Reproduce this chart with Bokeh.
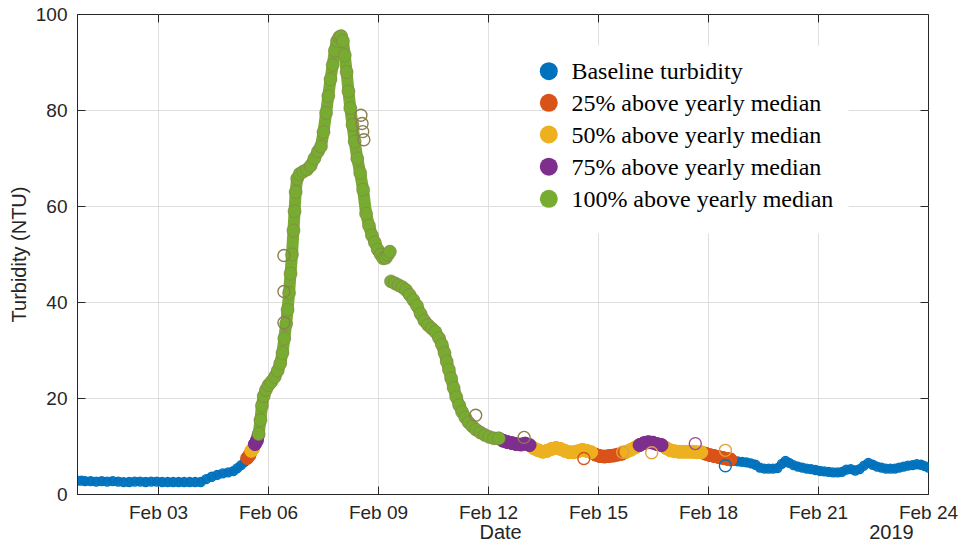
import numpy as np
from bokeh.plotting import figure
from bokeh.models import Range1d, FixedTicker, LinearAxis, CustomJSTickFormatter
from bokeh.core.properties import value
from bokeh.embed import file_html
from bokeh.resources import INLINE

# Turbidity record: time in days after 2019-02-01 00:00, turbidity in NTU.
# A NaN marks the short break in the record on Feb 09.
day = [
    -0.20, -0.10, 0.00, 0.15, 0.30, 0.45, 0.60, 0.75, 0.90, 1.05, 1.20, 1.35,
    1.50, 1.65, 1.80, 1.95, 2.10, 2.25, 2.40, 2.55, 2.70, 2.85, 3.00, 3.15,
    3.30, 3.45, 3.60, 3.75, 3.90, 4.05, 4.15, 4.25, 4.35, 4.42, 4.48, 4.53,
    4.58, 4.63, 4.68, 4.73, 4.78, 4.82, 4.87, 4.93, 5.00, 5.08, 5.17, 5.25,
    5.32, 5.38, 5.43, 5.48, 5.52, 5.56, 5.60, 5.64, 5.68, 5.71, 5.74, 5.78,
    5.85, 5.95, 6.05, 6.15, 6.25, 6.35, 6.43, 6.50, 6.57, 6.63, 6.69, 6.75,
    6.81, 6.87, 6.93, 6.98, 7.03, 7.08, 7.13, 7.18, 7.23, 7.29, 7.35, 7.42,
    7.50, 7.58, 7.66, 7.74, 7.82, 7.90, 7.98, 8.06, 8.13, 8.20, 8.26, 8.31,
    8.33,
    8.34, 8.45, 8.55, 8.65, 8.75, 8.85, 8.95, 9.05, 9.15, 9.25, 9.35, 9.45,
    9.55, 9.65, 9.73, 9.80, 9.86, 9.92, 9.98, 10.05, 10.12, 10.20, 10.28, 10.37,
    10.46, 10.56, 10.66, 10.78, 10.90, 11.02, 11.15, 11.28, 11.40, 11.52, 11.64, 11.76,
    11.88, 12.00, 12.12, 12.24, 12.36, 12.48, 12.60, 12.72, 12.84, 12.96, 13.08, 13.20,
    13.32, 13.44, 13.56, 13.68, 13.80, 13.92, 14.04, 14.16, 14.28, 14.40, 14.52, 14.64,
    14.76, 14.88, 15.00, 15.12, 15.24, 15.36, 15.48, 15.60, 15.72, 15.84, 15.96, 16.08,
    16.20, 16.32, 16.44, 16.56, 16.68, 16.80, 16.92, 17.04, 17.16, 17.28, 17.40, 17.52,
    17.60, 17.68, 17.80, 17.92, 18.04, 18.16, 18.28, 18.40, 18.52, 18.64, 18.76, 18.88,
    19.00, 19.10, 19.20, 19.32, 19.44, 19.56, 19.68, 19.80, 19.92, 20.04, 20.16, 20.28,
    20.40, 20.52, 20.64, 20.76, 20.88, 21.00, 21.12, 21.24, 21.36, 21.48, 21.60, 21.72,
    21.84, 21.96, 22.08, 22.20, 22.32, 22.44, 22.56, 22.68, 22.80, 22.90, 23.00,
]
turbidity = [
    2.9, 2.9, 2.8, 2.8, 2.7, 2.8, 2.7, 2.8, 2.7, 2.6, 2.6, 2.7,
    2.7, 2.6, 2.7, 2.7, 2.6, 2.6, 2.6, 2.6, 2.6, 2.6, 2.6, 2.6,
    3.2, 3.7, 4.1, 4.4, 4.6, 4.9, 5.5, 6.1, 6.8, 7.6, 8.2, 9.1,
    9.6, 10.5, 11.2, 12.6, 15.5, 18.5, 20.5, 21.8, 22.8, 23.5, 24.5, 25.8,
    27.3, 29.5, 32.5, 35.5, 38.5, 42.0, 46.0, 50.0, 55.0, 59.0, 63.0, 65.8,
    66.8, 67.3, 67.7, 68.5, 70.0, 71.5, 72.5, 75.5, 79.5, 83.0, 86.5, 89.5,
    92.5, 94.5, 95.3, 95.5, 94.5, 91.5, 88.0, 84.0, 80.5, 77.0, 73.5, 70.0,
    67.0, 63.5, 58.5, 56.0, 54.0, 52.5, 51.0, 50.0, 49.2, 49.3, 50.0, 50.6,
    float("nan"),
    44.4, 44.0, 43.6, 43.2, 42.6, 41.6, 40.5, 39.3, 37.6, 36.2, 35.3, 34.6,
    33.9, 32.6, 31.2, 29.5, 27.7, 26.0, 24.2, 22.2, 20.3, 18.6, 17.2, 16.0,
    15.0, 14.2, 13.5, 12.9, 12.4, 12.0, 11.7, 11.7, 11.2, 10.9, 10.7, 10.5,
    10.4, 10.6, 10.3, 9.6, 9.2, 8.9, 9.1, 9.5, 9.7, 9.5, 9.1, 8.8,
    8.8, 9.0, 9.3, 9.1, 8.8, 8.3, 8.0, 7.9, 8.0, 8.1, 8.3, 8.5,
    8.9, 9.3, 9.8, 10.3, 10.7, 10.9, 10.8, 10.5, 10.3, 9.7, 9.2, 9.0,
    8.9, 8.9, 8.9, 8.9, 8.8, 8.8, 8.5, 8.2, 8.0, 7.8, 7.6, 7.4,
    7.3, 7.0, 6.9, 6.8, 6.7, 6.5, 6.2, 5.6, 5.4, 5.4, 5.4, 5.5,
    6.4, 7.0, 6.6, 6.1, 5.8, 5.6, 5.4, 5.3, 5.1, 4.9, 4.8, 4.7,
    4.6, 4.6, 4.7, 5.2, 5.3, 5.0, 5.3, 6.0, 6.6, 6.2, 5.8, 5.6,
    5.4, 5.4, 5.4, 5.6, 5.8, 6.0, 6.1, 6.3, 6.2, 5.9, 5.6,
]

# Isolated readings that sit off the main trace
spike_day = [5.42, 5.42, 5.42, 7.52, 7.55, 7.57, 7.60, 10.65, 11.97,
             13.60, 14.66, 15.45, 16.64, 17.46, 17.46]
spike_turbidity = [49.8, 42.3, 35.8, 79.0, 77.3, 75.6, 73.9, 16.5, 11.9,
                   7.5, 8.8, 8.7, 10.6, 9.2, 6.0]

yearly_median = 5.8
exceedance = [0.25, 0.50, 0.75, 1.00]
category_labels = [
    "Baseline turbidity",
    "25% above yearly median",
    "50% above yearly median",
    "75% above yearly median",
    "100% above yearly median",
]
category_colors = ["#0072BD", "#D95319", "#EDB120", "#7E2F8E", "#77AC30"]
ring_colors = ["#0072BD", "#D95319", "#E0A23A", "#9A4F86", "#8A8050"]

x_tick_days = [2, 5, 8, 11, 14, 17, 20, 23]
x_tick_labels = ["Feb 03", "Feb 06", "Feb 09", "Feb 12", "Feb 15", "Feb 18", "Feb 21", "Feb 24"]
y_ticks = [0, 20, 40, 60, 80, 100]
x_title = "Date"
year_label = "2019"


def classify(v):
    """Exceedance class of each reading relative to the yearly median."""
    v = np.asarray(v, dtype=float)
    cls = np.zeros(len(v), dtype=int)
    for k, frac in enumerate(exceedance):
        cls[v >= yearly_median * (1.0 + frac)] = k + 1
    return cls


x = np.asarray(day, dtype=float)
y = np.asarray(turbidity, dtype=float)
cls = classify(y)

sx = np.asarray(spike_day, dtype=float)
sy = np.asarray(spike_turbidity, dtype=float)
scls = classify(sy)

AXIS_COLOR = "#262626"
SANS = "Liberation Sans"
X0, X1, Y0, Y1 = -0.21, 23.0, 0.0, 100.0
FRAME_W, FRAME_H = 851, 480
TICK_PX = 8

p = figure(
    width=961, height=550,
    x_range=Range1d(X0, X1), y_range=Range1d(Y0, Y1),
    output_backend="svg", toolbar_location=None,
    min_border_left=77, min_border_right=33, min_border_top=14, min_border_bottom=56,
    background_fill_color="white", border_fill_color="white",
)
# Frame outline closes the box on the top and right
p.outline_line_color = AXIS_COLOR
p.outline_line_width = 1
p.outline_line_alpha = 1.0

xticker = FixedTicker(ticks=x_tick_days)
yticker = FixedTicker(ticks=y_ticks)

for g, tk in ((p.xgrid, xticker), (p.ygrid, yticker)):
    g.ticker = tk
    g.grid_line_color = "#dfdfdf"
    g.grid_line_width = 1

for ax in (p.xaxis[0], p.yaxis[0]):
    ax.axis_line_color = AXIS_COLOR
    ax.major_tick_line_color = AXIS_COLOR
    ax.major_tick_in = TICK_PX
    ax.major_tick_out = 0
    ax.minor_tick_line_color = None
    ax.major_label_text_font = SANS
    ax.major_label_text_font_size = "19px"
    ax.major_label_text_color = AXIS_COLOR
    ax.axis_label_text_font = SANS
    ax.axis_label_text_font_size = "20px"
    ax.axis_label_text_font_style = "normal"
    ax.axis_label_text_color = AXIS_COLOR

p.xaxis[0].ticker = xticker
p.xaxis[0].major_label_overrides = {d: lab for d, lab in zip(x_tick_days, x_tick_labels)}
p.xaxis[0].major_label_standoff = 7
p.yaxis[0].ticker = yticker
p.yaxis[0].axis_label = "Turbidity (NTU)"
p.yaxis[0].major_label_standoff = 10
p.yaxis[0].axis_label_standoff = 3

# Second row under the dates: axis title in the middle, year under the last date
title_row = LinearAxis(
    ticker=FixedTicker(ticks=[11.33, 21.99]),
    formatter=CustomJSTickFormatter(args={"labels": [x_title, year_label]},
                                    code="return labels[index];"),
)
title_row.axis_line_color = None
title_row.major_tick_line_color = None
title_row.minor_tick_line_color = None
title_row.major_tick_in = 0
title_row.major_tick_out = 0
title_row.major_label_standoff = -5
title_row.major_label_text_font = SANS
title_row.major_label_text_font_size = "20px"
title_row.major_label_text_color = AXIS_COLOR
p.add_layout(title_row, "below")

# Inward tick marks on the top and right edges
dx_tick = TICK_PX * (X1 - X0) / FRAME_W
dy_tick = TICK_PX * (Y1 - Y0) / FRAME_H
p.segment(x_tick_days, [Y1] * len(x_tick_days), x_tick_days, [Y1 - dy_tick] * len(x_tick_days),
          line_color=AXIS_COLOR, line_width=1)
p.segment([X1] * len(y_ticks), y_ticks, [X1 - dx_tick] * len(y_ticks), y_ticks,
          line_color=AXIS_COLOR, line_width=1)

# Trace: thick connecting segments plus a marker per reading, one class at a time
seg_width = [8, 13, 13, 13, 12]
for c, color in enumerate(category_colors):
    x0, y0, x1, y1 = [], [], [], []
    for i in range(len(x) - 1):
        if np.isnan(y[i]) or np.isnan(y[i + 1]):
            continue
        if min(cls[i], cls[i + 1]) == c:
            x0.append(x[i]); y0.append(y[i]); x1.append(x[i + 1]); y1.append(y[i + 1])
    if x0:
        p.segment(x0, y0, x1, y1, line_color=color, line_width=seg_width[c],
                  line_cap="round", line_alpha=0.75 if c == 0 else 1.0)
    m = (cls == c) & ~np.isnan(y)
    if c == 0:
        p.scatter(x[m], y[m], marker="circle", size=9, fill_color=color, fill_alpha=0.35,
                  line_color=color, line_width=1.3)
    elif c == 4:
        p.scatter(x[m], y[m], marker="circle", size=13, fill_color=color,
                  line_color="#8a7a55", line_alpha=0.55, line_width=1)
    else:
        p.scatter(x[m], y[m], marker="circle", size=13, fill_color=color, line_color=color)

# Off-trace readings drawn as open rings
p.scatter(sx, sy, marker="circle", size=12, fill_color=None,
          line_color=[ring_colors[k] for k in scls], line_width=1.4)

# Key: white panel over the grid, filled dots and serif labels
key_left, key_right, key_bottom, key_top = 12.50, 20.82, 54.4, 93.5
key_dot_x, key_text_x = 12.644, 13.26
key_rows = [88.2, 81.6, 75.0, 68.3, 61.6]
p.quad(left=[key_left], right=[key_right], bottom=[key_bottom], top=[key_top],
       fill_color="white", line_color=None)
p.scatter([key_dot_x] * len(key_rows), key_rows, marker="circle", size=18,
          fill_color=category_colors, line_color=None)
p.text([key_text_x] * len(key_rows), key_rows, text=category_labels,
       text_font=value("Liberation Serif"), text_font_size="24px",
       text_baseline="middle", text_align="left", text_color="black")

open("out.html", "w").write(file_html(p, INLINE))
